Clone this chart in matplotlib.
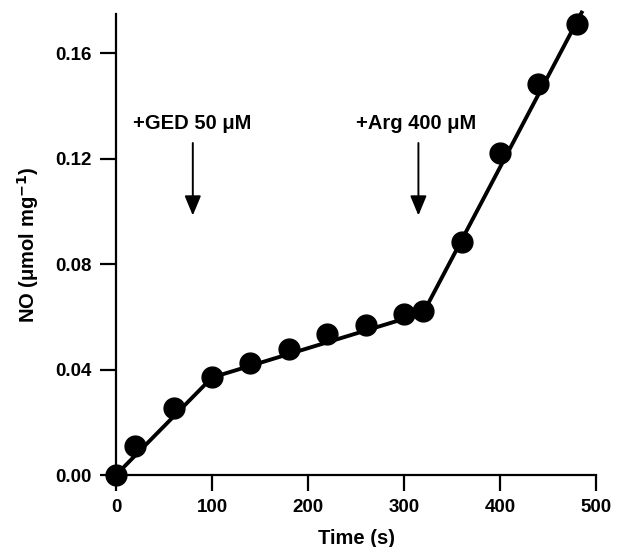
import numpy as np
import matplotlib
matplotlib.use("Agg")
import matplotlib.pyplot as plt

plt.rcParams['font.family'] = ['Liberation Sans', 'DejaVu Sans']

# Measured NO production
time_s = [0, 20, 60, 100, 140, 180, 220, 260, 300, 320, 360, 400, 440, 480]
no_umol = [0.0, 0.011, 0.0255, 0.0372, 0.0425, 0.0479, 0.0536, 0.057,
           0.0612, 0.0623, 0.0885, 0.1223, 0.1485, 0.171]

# Piecewise linear trend (breakpoints)
fit_t = [0, 100, 320, 485]
fit_no = [0.0, 0.037, 0.0615, 0.1755]

# Additions
add_labels = ['+GED 50 μM', '+Arg 400 μM']
add_times = [80, 315]

fig = plt.figure(figsize=(6.17, 5.47), dpi=100)
ax = fig.add_axes([0.188, 0.1316, 0.778, 0.843])

ax.plot(fit_t, fit_no, color='black', lw=2.8, clip_on=False, zorder=2)
ax.plot(time_s, no_umol, 'o', color='black', ms=15, clip_on=False, zorder=3)

for lab, t in zip(add_labels, add_times):
    ax.annotate('', xy=(t, 0.0985), xytext=(t, 0.126),
                arrowprops=dict(arrowstyle='-|>,head_length=1.2,head_width=0.5',
                                color='black', lw=1.4, shrinkA=0, shrinkB=0))
for lab, t in zip(add_labels, [79, 313]):
    ax.text(t, 0.1335, lab, ha='center', va='center', fontsize=14.5,
            fontweight='bold')

ax.set_xlim(0, 500)
ax.set_ylim(0, 0.175)
ax.set_xticks([0, 100, 200, 300, 400, 500])
ax.set_yticks([0.0, 0.04, 0.08, 0.12, 0.16])
ax.set_yticklabels(['0.00', '0.04', '0.08', '0.12', '0.16'])
for s in ['top', 'right']:
    ax.spines[s].set_visible(False)
for s in ['left', 'bottom']:
    ax.spines[s].set_linewidth(1.6)
ax.tick_params(length=11.5, width=1.6, labelsize=13.5, pad=6)
for lbl in ax.get_xticklabels() + ax.get_yticklabels():
    lbl.set_fontweight('bold')

ax.set_xlabel('Time (s)', fontsize=14.5, fontweight='bold', labelpad=9)
ax.set_ylabel('NO (μmol mg$^{\\mathbf{-1}}$)', fontsize=14.5,
              fontweight='bold', labelpad=10)

fig.savefig('out.png', dpi=100)
